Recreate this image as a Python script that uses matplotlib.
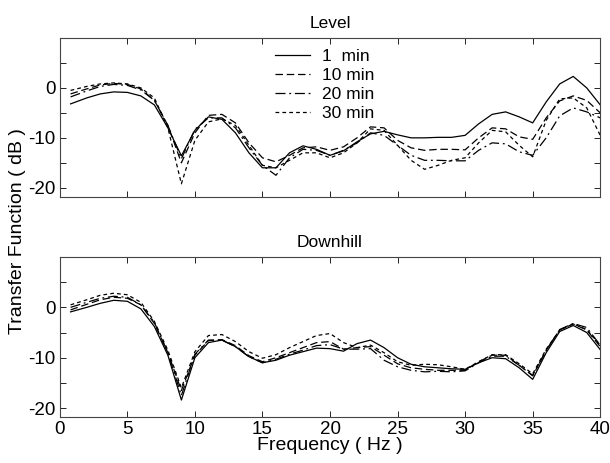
import numpy as np
import matplotlib
matplotlib.use("Agg")
import matplotlib.pyplot as plt

plt.rcParams['font.family'] = ['Liberation Sans', 'DejaVu Sans']
plt.rcParams['font.size'] = 13

# frequency grid (Hz)
freq = [0.8, 2, 3, 4, 5, 6, 7, 8, 9, 10, 11, 12, 13, 14, 15, 16, 17, 18, 19, 20,
        21, 22, 23, 24, 25, 26, 27, 28, 29, 30, 31, 32, 33, 34, 35, 36, 37, 38, 39, 40]

labels = ["1  min", "10 min", "20 min", "30 min"]

# Level walking (dB)
level_1 = [-3.2, -2.0, -1.2, -0.8, -0.9, -1.6, -3.4, -8.0, -13.6, -8.5, -5.8, -6.3, -9.0, -13.0,
           -16.0, -16.0, -13.0, -11.6, -12.3, -13.5, -12.6, -10.8, -9.2, -8.7, -9.4, -10.0, -10.0,
           -9.9, -9.9, -9.5, -7.2, -5.3, -4.8, -5.8, -7.0, -2.8, 0.8, 2.3, 0.0, -3.4]
level_10 = [-1.2, -0.2, 0.6, 0.9, 0.7, -0.2, -2.5, -7.5, -15.0, -9.0, -5.5, -5.3, -7.0, -11.0,
            -14.0, -14.8, -13.5, -12.0, -11.8, -12.5, -11.8, -10.0, -7.8, -8.0, -10.5, -12.0, -12.5,
            -12.3, -12.3, -12.4, -10.0, -8.0, -8.2, -9.8, -10.3, -6.0, -2.6, -1.6, -2.5, -5.0]
level_20 = [-1.8, -0.6, 0.3, 0.7, 0.5, -0.4, -2.5, -7.5, -14.2, -8.3, -6.0, -6.0, -8.0, -12.0,
            -15.5, -17.5, -14.0, -12.3, -12.5, -13.5, -12.5, -11.0, -9.0, -9.5, -11.5, -13.5, -14.5,
            -14.5, -14.6, -14.6, -12.5, -11.0, -11.2, -12.8, -13.5, -10.0, -5.6, -4.0, -4.8, -6.0]
level_30 = [-0.5, 0.3, 0.8, 1.0, 0.8, 0.0, -2.0, -8.0, -19.2, -10.5, -6.8, -6.2, -7.5, -11.5,
            -15.5, -16.0, -14.5, -13.0, -13.0, -14.0, -13.0, -11.0, -8.2, -8.5, -11.5, -14.5, -16.3,
            -15.5, -14.5, -14.0, -11.0, -8.5, -8.8, -11.5, -13.8, -6.5, -2.2, -2.0, -4.0, -9.5]

# Downhill walking (dB)
down_1 = [-0.9, 0.0, 0.8, 1.4, 1.2, -0.3, -3.8, -9.5, -18.4, -10.0, -7.0, -6.5, -7.8, -9.8,
          -11.0, -10.5, -9.5, -8.8, -8.1, -8.2, -8.7, -7.2, -6.5, -8.0, -10.0, -11.3, -11.8,
          -12.0, -12.2, -12.3, -11.0, -10.0, -10.2, -12.0, -14.3, -9.0, -4.8, -3.6, -5.0, -8.4]
down_10 = [-0.5, 0.6, 1.5, 2.0, 1.8, 0.5, -3.2, -9.0, -16.5, -9.5, -6.6, -6.4, -7.6, -9.6,
           -10.8, -10.0, -9.0, -8.0, -7.0, -6.8, -8.3, -8.0, -7.8, -9.5, -11.2, -12.0, -12.3,
           -12.5, -12.5, -12.5, -10.8, -9.5, -9.5, -11.5, -13.6, -8.5, -4.5, -3.3, -4.5, -7.8]
down_20 = [0.0, 1.0, 1.8, 2.2, 2.0, 0.5, -3.0, -9.0, -17.5, -9.3, -6.5, -6.5, -7.8, -9.8,
           -11.0, -10.3, -9.3, -8.5, -7.6, -7.4, -8.3, -8.3, -8.2, -10.5, -11.8, -12.5, -12.8,
           -12.7, -12.8, -12.6, -11.0, -9.7, -9.7, -11.5, -13.5, -8.6, -4.4, -3.2, -4.0, -7.5]
down_30 = [0.5, 1.5, 2.4, 2.8, 2.5, 1.0, -2.8, -8.5, -16.0, -8.8, -5.6, -5.4, -6.8, -8.8,
           -10.1, -9.4, -8.0, -6.8, -5.6, -5.2, -7.0, -8.0, -7.5, -9.0, -10.8, -11.5, -11.3,
           -11.4, -11.8, -12.3, -10.8, -9.4, -9.4, -11.2, -13.2, -8.3, -4.5, -3.3, -4.4, -7.5]

styles = ['-', (0, (6, 3)), (0, (8, 3, 1.5, 3)), (0, (3, 2.5))]

fig = plt.figure(figsize=(6.1, 4.63), dpi=100)
ax1 = fig.add_axes([0.098, 0.575, 0.886, 0.343])
ax2 = fig.add_axes([0.098, 0.099, 0.886, 0.346])

for ax, series, title in [(ax1, [level_1, level_10, level_20, level_30], "Level"),
                          (ax2, [down_1, down_10, down_20, down_30], "Downhill")]:
    for y, ls, lab in zip(series, styles, labels):
        ax.plot(freq, y, color='black', linestyle=ls, linewidth=0.9, label=lab)
    ax.set_xlim(0, 40)
    ax.set_ylim(-21.8, 10)
    ax.set_xticks(np.arange(0, 41, 5))
    ax.set_yticks(np.arange(-20, 6, 5))
    ax.set_yticklabels(['-20', '', '-10', '', '0', ''])
    ax.tick_params(direction='in', top=True, right=True, length=4, width=0.6,
                   labelsize=13.5, pad=3)
    for s in ax.spines.values():
        s.set_linewidth(0.8)
        s.set_color('#444444')
    ax.set_title(title, fontsize=12.5, pad=7)

ax1.set_xticklabels([])
ax2.set_xlabel("Frequency ( Hz )", fontsize=14, labelpad=-1)

ax1.legend(loc='upper left', bbox_to_anchor=(0.398, 0.93), frameon=False,
           borderpad=0, borderaxespad=0, handlelength=2.0, handletextpad=0.7,
           labelspacing=0.22, fontsize=12.5)

fig.text(0.028, 0.5, "Transfer Function ( dB )", rotation=90, ha='center', va='center', fontsize=14)

fig.savefig("out.png", dpi=100)
